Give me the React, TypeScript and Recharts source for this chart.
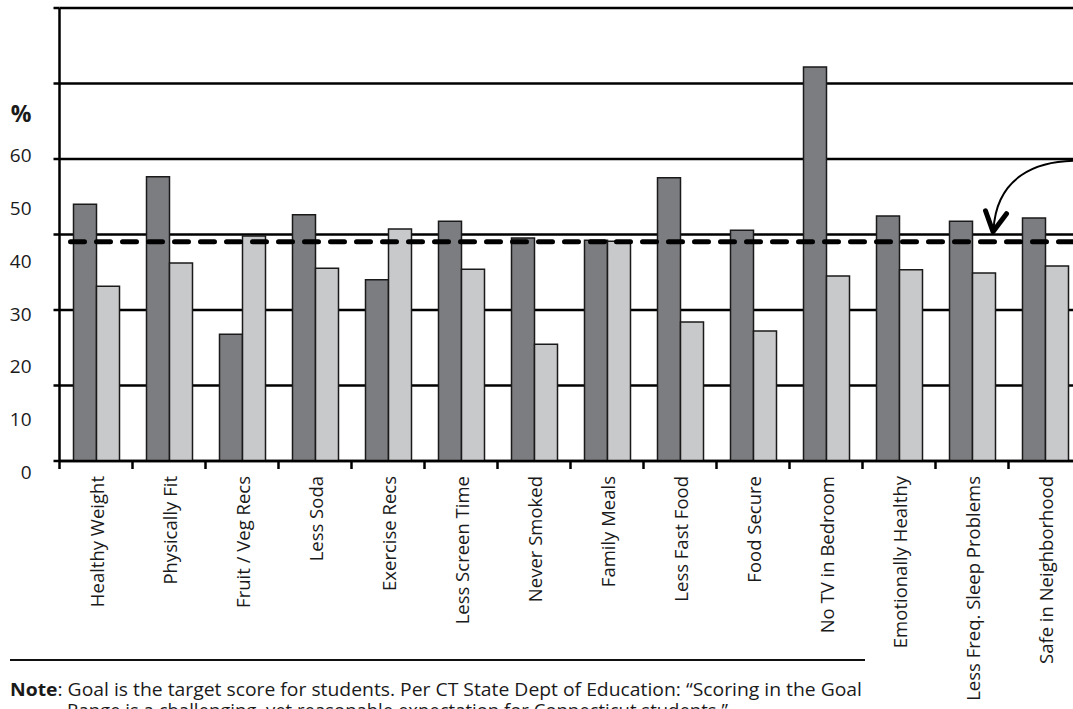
import { BarChart, Bar, XAxis, YAxis, CartesianGrid, ReferenceLine } from "recharts";

const categories = [
  "Healthy Weight",
  "Physically Fit",
  "Fruit / Veg Recs",
  "Less Soda",
  "Exercise Recs",
  "Less Screen Time",
  "Never Smoked",
  "Family Meals",
  "Less Fast Food",
  "Food Secure",
  "No TV in Bedroom",
  "Emotionally Healthy",
  "Less Freq. Sleep Problems",
  "Safe in Neighborhood",
];

// dark bars
const seriesA = [48.6, 53.8, 24.0, 46.6, 34.3, 45.4, 42.2, 41.8, 53.6, 43.7, 74.6, 46.4, 45.4, 46.0];
// light bars
const seriesB = [33.1, 37.5, 42.6, 36.5, 43.9, 36.3, 22.1, 41.6, 26.3, 24.6, 35.0, 36.2, 35.6, 36.9];

const goal = 41.5;
const pctTicks = [0, 10, 20, 30, 40, 50, 60];
const unitTick = 68;
const pctTop = 85.75;
const gridSteps = [0, 1, 2, 3, 4, 5, 6];

const data = categories.map((name, i) => ({ name, a: seriesA[i], b: seriesB[i] }));

const font = "'Open Sans', 'DejaVu Sans', sans-serif";

function PctTick(props: any) {
  const { x, y, payload } = props;
  const isUnit = payload.value === unitTick;
  return (
    <text
      x={x}
      y={y + 11}
      textAnchor="end"
      dominantBaseline="central"
      fontFamily={font}
      fontSize={isUnit ? 23 : 19}
      fontWeight={isUnit ? 700 : 400}
      fill="#1a1a1a"
    >
      {isUnit ? "%" : payload.value}
    </text>
  );
}

function CatTick(props: any) {
  const { x, y, payload } = props;
  const half = payload?.offset ?? 36.5;
  const ty = y + 15;
  return (
    <g>
      <line x1={x - half} x2={x - half} y1={y} y2={y + 8} stroke="#000" strokeWidth={2.5} />
      <text
        x={x}
        y={ty}
        transform={`rotate(-90 ${x} ${ty})`}
        textAnchor="end"
        dominantBaseline="central"
        fontFamily={font}
        fontSize={18.5}
        fill="#1a1a1a"
      >
        {payload.value}
      </text>
    </g>
  );
}

function GoalArrow(props: any) {
  const vb = props.viewBox || {};
  const r = vb.x + vb.width;
  const y = vb.y;
  return (
    <g fill="none" stroke="#000" strokeLinecap="round" strokeLinejoin="round">
      <path d={`M ${r - 1} ${y - 81} C ${r - 45} ${y - 82} ${r - 85} ${y - 65} ${r - 88} ${y - 12}`} strokeWidth={2} />
      <path d={`M ${r - 96} ${y - 31} L ${r - 88.5} ${y - 10} L ${r - 75} ${y - 28}`} strokeWidth={5} />
    </g>
  );
}

export default function App() {
  return (
    <div
      style={{
        position: "fixed",
        left: 0,
        top: 0,
        width: 1073,
        height: 709,
        overflow: "hidden",
        background: "#fff",
      }}
    >
      <BarChart
        width={1090}
        height={709}
        data={data}
        margin={{ top: 8, right: 8.5, bottom: 0, left: 0 }}
        barCategoryGap={14}
        barGap={0}
      >
        <CartesianGrid yAxisId="grid" vertical={false} stroke="#000" strokeWidth={2.5} />
        <XAxis
          dataKey="name"
          interval={0}
          height={248}
          axisLine={{ stroke: "#000", strokeWidth: 2.5 }}
          tickLine={false}
          tickSize={0}
          tickMargin={0}
          tick={<CatTick />}
        />
        <YAxis
          yAxisId="grid"
          type="number"
          domain={[0, 6]}
          ticks={gridSteps}
          allowDataOverflow
          width={28}
          tickSize={6}
          tickFormatter={() => ""}
          axisLine={{ stroke: "#000", strokeWidth: 2.5 }}
          tickLine={{ stroke: "#000", strokeWidth: 2.5 }}
        />
        <YAxis
          yAxisId="pct"
          type="number"
          domain={[0, pctTop]}
          ticks={[...pctTicks, unitTick]}
          allowDataOverflow
          width={31.5}
          tickSize={0}
          tickMargin={0}
          axisLine={false}
          tickLine={false}
          tick={<PctTick />}
        />
        <Bar yAxisId="pct" dataKey="a" fill="#7c7d81" stroke="#1a1a1a" strokeWidth={1.5} isAnimationActive={false} />
        <Bar yAxisId="pct" dataKey="b" fill="#c8c9cb" stroke="#1a1a1a" strokeWidth={1.5} isAnimationActive={false} />
        <ReferenceLine
          yAxisId="pct"
          y={goal}
          stroke="#000"
          strokeWidth={5}
          strokeDasharray="14 12"
          strokeDashoffset={15}
          strokeLinecap="round"
          label={<GoalArrow />}
        />
      </BarChart>
      <div
        style={{
          position: "absolute",
          left: 10,
          top: 659,
          width: 855,
          borderTop: "2.5px solid #111",
        }}
      />
      <svg
        style={{ position: "absolute", left: 0, top: 670 }}
        width={1073}
        height={40}
        fontFamily={font}
        fill="#1a1a1a"
      >
        <text x={10} y={26} fontSize={18.5} textLength={852} lengthAdjust="spacingAndGlyphs">
          <tspan fontWeight={700}>Note</tspan>: Goal is the target score for students. Per CT State Dept of Education:  “Scoring in the Goal
        </text>
        <text x={67} y={47} fontSize={18.5}>
          Range is a challenging, yet reasonable expectation for Connecticut students.”
        </text>
      </svg>
    </div>
  );
}
